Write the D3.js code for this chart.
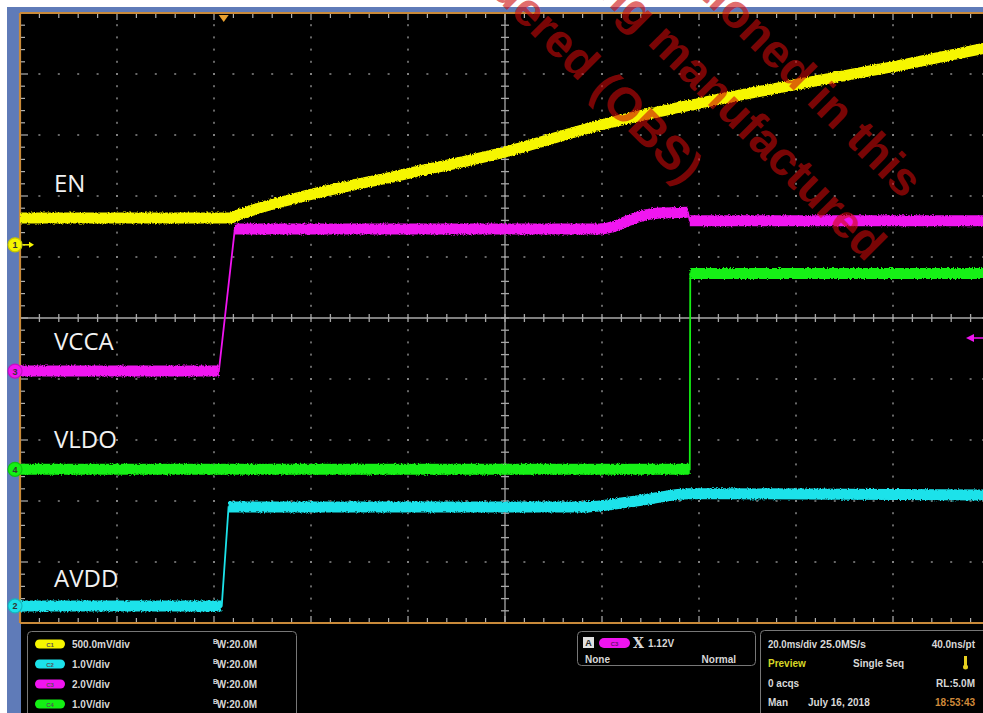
<!DOCTYPE html>
<html><head><meta charset="utf-8">
<script src="https://cdn.jsdelivr.net/npm/d3@7"></script>
<style>html,body{margin:0;padding:0;background:#fff;overflow:hidden}</style>
</head><body>
<svg id="c" width="983" height="713"></svg>
<script>
// ================= DATA =================
const timeDomainMs = [-42, 158];           // 20 ms/div x 10 div, trigger at 0
const divisionsX = 10, divisionsY = 10;

const channelNames = ["EN", "VCCA", "VLDO", "AVDD"];
const voltsPerDiv  = [0.5, 2.0, 1.0, 1.0];

const enTimes   = [-42, 1.3, 3.4, 6.4, 15.7, 36.3, 57.9, 77.5, 98.1, 118.8, 139.4, 158];
const enVolts   = [0.22, 0.22, 0.25, 0.29, 0.39, 0.57, 0.76, 0.98, 1.16, 1.32, 1.47, 1.62];

const vccaTimes = [-42, -1.0, 2.3, 73.4, 77.5, 80.6, 83.7, 86.8, 89.9, 95.7, 96.1, 158];
const vccaVolts = [0, 0, 4.66, 4.66, 4.66, 4.75, 4.95, 5.11, 5.18, 5.21, 4.93, 4.93];

const vldoTimes = [-42, 96.1, 96.2, 158];
const vldoVolts = [0, 0, 3.21, 3.21];

const avddTimes = [-42, -0.4, 1.0, 73.4, 85.0, 96.1, 158];
const avddVolts = [0, 0, 1.62, 1.62, 1.72, 1.84, 1.82];

const channelSettingLabels = ["500.0mV/div", "1.0V/div", "2.0V/div", "1.0V/div"];
const channelBadgeLabels   = ["C1", "C2", "C3", "C4"];
const bandwidthLabels      = ["20.0M", "20.0M", "20.0M", "20.0M"];
const triggerTexts   = ["1.12V", "None", "Normal"];
const acquisitionRows = [
  ["20.0ms/div", "25.0MS/s", "40.0ns/pt"],
  ["Preview", "Single Seq", ""],
  ["0 acqs", "", "RL:5.0M"],
  ["Man", "July 16, 2018", "18:53:43"]
];
const watermarkLines = [
  "The product being mentioned in this",
  "document is no longer being manufactured",
  "and is now considered (OBS)"
];

// ================= LAYOUT / STYLE =================
const svg = d3.select("#c");
const W = 983, H = 713;
const G = {x0: 20, x1: 990, y0: 13, y1: 623};
const x = d3.scaleLinear().domain(timeDomainMs).range([G.x0, G.x1]);
const yDiv = d3.scaleLinear().domain([-divisionsY/2, divisionsY/2]).range([G.y1, G.y0]);
const chPos = {EN: 1.2, VCCA: -0.87, VLDO: -2.48, AVDD: -4.72};
const chColor = {EN: "#f6f600", VCCA: "#f014f0", VLDO: "#14f014", AVDD: "#1ce2ea"};
const ORANGE = "#c98a3a", BLUE = "#5f7bb8", GRID = "#8a8a8a";

const defs = svg.append("defs");
const f = defs.append("filter").attr("id", "noise").attr("filterUnits", "userSpaceOnUse")
  .attr("x", 0).attr("y", 0).attr("width", W).attr("height", H);
f.append("feTurbulence").attr("type", "fractalNoise").attr("baseFrequency", "0.7")
  .attr("numOctaves", 2).attr("seed", 4).attr("result", "t");
f.append("feDisplacementMap").attr("in", "SourceGraphic").attr("in2", "t")
  .attr("scale", 3.5).attr("xChannelSelector", "R").attr("yChannelSelector", "G");
defs.append("clipPath").attr("id", "gclip").append("rect")
  .attr("x", G.x0).attr("y", G.y0).attr("width", W - G.x0).attr("height", G.y1 - G.y0);

// background
svg.append("rect").attr("width", W).attr("height", H).attr("fill", "#fff");
svg.append("rect").attr("x", 7).attr("y", 7).attr("width", W - 7).attr("height", H - 7).attr("fill", BLUE);
svg.append("rect").attr("x", 21).attr("y", 13).attr("width", W - 21).attr("height", H - 13).attr("fill", "#000");

// ---------- graticule ----------
const grid = svg.append("g");
const majX = d3.range(divisionsX + 1).map(i => G.x0 + i * (G.x1 - G.x0) / divisionsX);
const majY = d3.range(divisionsY + 1).map(i => G.y0 + i * (G.y1 - G.y0) / divisionsY);
const minX = d3.range(divisionsX * 5 + 1).map(i => G.x0 + i * (G.x1 - G.x0) / (divisionsX * 5));
const minY = d3.range(divisionsY * 5 + 1).map(i => G.y0 + i * (G.y1 - G.y0) / (divisionsY * 5));
const cx = majX[5], cy = majY[5];
majX.slice(1, -1).forEach((gx, i) => { if (i + 1 === 5) return;
  minY.forEach(gy => grid.append("rect").attr("x", gx - 1).attr("y", gy - 1).attr("width", 2).attr("height", 2).attr("fill", GRID).attr("opacity", 0.75)); });
majY.slice(1, -1).forEach((gy, j) => { if (j + 1 === 5) return;
  minX.forEach(gx => grid.append("rect").attr("x", gx - 1).attr("y", gy - 1).attr("width", 2).attr("height", 2).attr("fill", GRID).attr("opacity", 0.75)); });
grid.append("line").attr("x1", G.x0).attr("x2", W).attr("y1", cy).attr("y2", cy).attr("stroke", "#a8a8a8").attr("stroke-width", 1.3);
grid.append("line").attr("x1", cx).attr("x2", cx).attr("y1", G.y0).attr("y2", G.y1).attr("stroke", "#a8a8a8").attr("stroke-width", 1.3);
minX.forEach(gx => grid.append("line").attr("x1", gx).attr("x2", gx).attr("y1", cy - 4).attr("y2", cy + 4).attr("stroke", "#a8a8a8").attr("stroke-width", 1.3));
minY.forEach(gy => grid.append("line").attr("x1", cx - 4).attr("x2", cx + 4).attr("y1", gy).attr("y2", gy).attr("stroke", "#a8a8a8").attr("stroke-width", 1.3));
minX.forEach((gx, i) => { const L = i % 5 === 0 ? 7 : 5;
  grid.append("line").attr("x1", gx).attr("x2", gx).attr("y1", G.y0).attr("y2", G.y0 + L).attr("stroke", "#b0b0b0").attr("stroke-width", 1.2);
  grid.append("line").attr("x1", gx).attr("x2", gx).attr("y1", G.y1).attr("y2", G.y1 - L).attr("stroke", "#b0b0b0").attr("stroke-width", 1.2); });
minY.forEach((gy, i) => { const L = i % 5 === 0 ? 8 : 5;
  grid.append("line").attr("x1", G.x0).attr("x2", G.x0 + L).attr("y1", gy).attr("y2", gy).attr("stroke", "#b0b0b0").attr("stroke-width", 1.2);
  grid.append("line").attr("x1", G.x1).attr("x2", G.x1 - L).attr("y1", gy).attr("y2", gy).attr("stroke", "#b0b0b0").attr("stroke-width", 1.2); });
grid.append("line").attr("x1", G.x0).attr("x2", W).attr("y1", G.y0).attr("y2", G.y0).attr("stroke", ORANGE).attr("stroke-width", 2.2);
grid.append("line").attr("x1", G.x0).attr("x2", W).attr("y1", G.y1).attr("y2", G.y1).attr("stroke", ORANGE).attr("stroke-width", 2.2);
grid.append("line").attr("x1", G.x0).attr("x2", G.x0).attr("y1", G.y0).attr("y2", G.y1).attr("stroke", ORANGE).attr("stroke-width", 2.2);

// ---------- traces ----------
const series = [
  {name: "EN", t: enTimes, v: enVolts},
  {name: "VCCA", t: vccaTimes, v: vccaVolts},
  {name: "VLDO", t: vldoTimes, v: vldoVolts},
  {name: "AVDD", t: avddTimes, v: avddVolts}
];
const traces = svg.append("g").attr("clip-path", "url(#gclip)");
series.forEach(s => {
  const vdiv = voltsPerDiv[channelNames.indexOf(s.name)];
  const pts = s.t.map((t, i) => [x(t), yDiv(chPos[s.name] + s.v[i] / vdiv)]);
  const col = chColor[s.name];
  traces.append("path").attr("d", d3.line()(pts)).attr("fill", "none")
    .attr("stroke", col).attr("stroke-width", 1.8);
  const runs = []; let cur = [pts[0]];
  for (let i = 1; i < pts.length; i++) {
    const dx = Math.abs(pts[i][0] - pts[i-1][0]), dy = Math.abs(pts[i][1] - pts[i-1][1]);
    if (dy > 3 * dx && dy > 6) { runs.push(cur); cur = [pts[i]]; } else cur.push(pts[i]);
  }
  runs.push(cur);
  const ln = d3.line().curve(d3.curveMonotoneX);
  runs.filter(r => r.length > 1).forEach(r => {
    traces.append("path").attr("d", ln(r)).attr("fill", "none")
      .attr("stroke", col).attr("stroke-width", 11).attr("stroke-linecap", "butt")
      .attr("filter", "url(#noise)");
  });
});

// ---------- channel labels ----------
const labelY = {EN: 192, VCCA: 350, VLDO: 448, AVDD: 587};
channelNames.forEach(n => svg.append("text").attr("x", 54).attr("y", labelY[n]).text(n)
  .attr("font-family", "Open Sans, sans-serif").attr("font-size", 24).attr("fill", "#f2f2f2"));

// ---------- markers ----------
const mk = svg.append("g").attr("font-family", "Liberation Sans, Arial").attr("font-weight", "bold");
const markerNum = {EN: "1", VCCA: "3", VLDO: "4", AVDD: "2"};
channelNames.forEach(n => {
  const my = yDiv(chPos[n]);
  mk.append("circle").attr("cx", 15).attr("cy", my).attr("r", 7).attr("fill", chColor[n])
    .attr("stroke", d3.color(chColor[n]).darker(0.6)).attr("stroke-width", 1.2);
  mk.append("text").attr("x", 15).attr("y", my + 3.5).attr("text-anchor", "middle")
    .attr("font-size", 9).attr("fill", "#333").text(markerNum[n]);
});
const enM = yDiv(chPos.EN);
mk.append("line").attr("x1", 23).attr("x2", 31).attr("y1", enM).attr("y2", enM).attr("stroke", chColor.EN).attr("stroke-width", 1.5);
mk.append("path").attr("d", `M29,${enM-3}L34,${enM}L29,${enM+3}Z`).attr("fill", chColor.EN);
mk.append("path").attr("d", `M${x(0)-5},15L${x(0)+5},15L${x(0)},22Z`).attr("fill", "#e8a030");
const trigY = 338;
mk.append("path").attr("d", `M966,${trigY}L974,${trigY-4}L974,${trigY+4}Z`).attr("fill", chColor.VCCA);
mk.append("line").attr("x1", 973).attr("x2", W).attr("y1", trigY).attr("y2", trigY).attr("stroke", chColor.VCCA).attr("stroke-width", 1.5);

// ---------- status panel ----------
const st = svg.append("g").attr("font-family", "Liberation Sans, Arial").attr("font-weight", "bold")
  .attr("font-size", 10).attr("fill", "#d8d8d8");
st.append("rect").attr("x", 27.5).attr("y", 631.5).attr("width", 269).attr("height", 95).attr("rx", 4)
  .attr("fill", "#000").attr("stroke", "#777").attr("stroke-width", 1);
const badgeColors = [chColor.EN, chColor.AVDD, chColor.VCCA, chColor.VLDO];
const rowY = [644, 664, 684, 704];
channelSettingLabels.forEach((lab, i) => {
  st.append("rect").attr("x", 35).attr("y", rowY[i] - 4.5).attr("width", 30).attr("height", 9).attr("rx", 4.5)
    .attr("fill", badgeColors[i]);
  st.append("text").attr("x", 50).attr("y", rowY[i] + 2.5).attr("text-anchor", "middle").attr("font-size", 6)
    .attr("fill", "#555").text(channelBadgeLabels[i]);
  st.append("text").attr("x", 72).attr("y", rowY[i] + 4).text(lab);
  const bw = st.append("text").attr("x", 213).attr("y", rowY[i] + 4);
  bw.append("tspan").attr("font-size", 6.5).attr("dy", -4).text("B");
  bw.append("tspan").attr("dy", 4).attr("dx", -1).text("W:" + bandwidthLabels[i]);
});
st.append("rect").attr("x", 577.5).attr("y", 631.5).attr("width", 178).attr("height", 34).attr("rx", 4)
  .attr("fill", "#000").attr("stroke", "#777");
st.append("rect").attr("x", 583).attr("y", 637).attr("width", 11).attr("height", 11).attr("fill", "#e0e0e0");
st.append("text").attr("x", 588.5).attr("y", 646).attr("text-anchor", "middle").attr("font-size", 9).attr("fill", "#222").text("A");
st.append("rect").attr("x", 599).attr("y", 638).attr("width", 31).attr("height", 10).attr("rx", 5).attr("fill", chColor.VCCA);
st.append("text").attr("x", 614.5).attr("y", 645.5).attr("text-anchor", "middle").attr("font-size", 6).attr("fill", "#6a106a").text("C3");
st.append("text").attr("x", 633).attr("y", 648).attr("font-family", "DejaVu Serif").attr("font-size", 14).text("X");
st.append("text").attr("x", 648).attr("y", 647).text(triggerTexts[0]);
st.append("text").attr("x", 585).attr("y", 663).text(triggerTexts[1]);
st.append("text").attr("x", 736).attr("y", 663).attr("text-anchor", "end").text(triggerTexts[2]);
st.append("rect").attr("x", 760.5).attr("y", 630.5).attr("width", 240).attr("height", 95).attr("rx", 4)
  .attr("fill", "#000").attr("stroke", "#777");
const acqX = [[768, "start"], [820, "start"], [975, "end"]];
const acqY = [648, 667, 687, 706];
acquisitionRows.forEach((row, r) => row.forEach((txt, c) => {
  if (!txt) return;
  let xx = acqX[c][0], anc = acqX[c][1];
  if (r === 1 && c === 1) { xx = 853; }
  if (r === 3 && c === 1) { xx = 808; }
  const t = st.append("text").attr("x", xx).attr("y", acqY[r]).attr("text-anchor", anc).text(txt);
  if (r === 0 && c < 2) t.attr("textLength", c === 0 ? 49 : 46).attr("lengthAdjust", "spacingAndGlyphs");
  if (r === 1 && c === 0) t.attr("fill", "#d6d626");
  if (r === 3 && c === 2) t.attr("fill", "#d08a3a");
}));
st.append("rect").attr("x", 964).attr("y", 656).attr("width", 3).attr("height", 10).attr("fill", "#e8d020");
st.append("circle").attr("cx", 965.5).attr("cy", 667).attr("r", 2.5).attr("fill", "#e8d020");

// ---------- watermark ----------
const wm = svg.append("g").attr("font-family", "Liberation Sans, Arial").attr("font-weight", "bold")
  .attr("font-size", 47).attr("fill", "rgb(205,10,10)").attr("fill-opacity", 0.6);
const wmEnds = [[903, 200], [866, 263], [683, 186]];
watermarkLines.forEach((ln, i) => {
  wm.append("text").attr("text-anchor", "end")
    .attr("transform", `translate(${wmEnds[i][0]},${wmEnds[i][1]}) rotate(45)`).text(ln);
});
</script>
</body></html>
